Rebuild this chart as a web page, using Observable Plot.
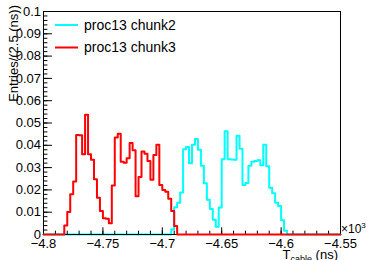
<!DOCTYPE html>
<html>
<head>
<meta charset="utf-8">
<script src="https://cdn.jsdelivr.net/npm/d3@7"></script>
<script src="https://cdn.jsdelivr.net/npm/@observablehq/plot@0.6"></script>
<style>
  html, body { margin: 0; padding: 0; background: #fff; }
  #chart { position: relative; width: 370px; height: 260px; overflow: hidden; }
</style>
</head>
<body>
<div id="chart"></div>
<script>
// ---- data (x in units of 10^3 ns) ----
const seriesNames = ["proc13 chunk2", "proc13 chunk3"];
const seriesColors = ["#00ffff", "#ff0000"];
const xTicks = [-4.8, -4.75, -4.7, -4.65, -4.6, -4.55];
const xTickLabels = ["\u22124.8", "\u22124.75", "\u22124.7", "\u22124.65", "\u22124.6", "\u22124.55"];
const yTicks = [0, 0.01, 0.02, 0.03, 0.04, 0.05, 0.06, 0.07, 0.08, 0.09, 0.1];
const yTickLabels = ["0", "0.01", "0.02", "0.03", "0.04", "0.05", "0.06", "0.07", "0.08", "0.09", "0.1"];
const xTitle = "T";
const xTitleSub = "cable";
const xTitleUnit = " (ns)";
const yTitle = "Entries/(2.5 (ns))";
const histLow = -4.8, histHigh = -4.55, binWidth = 0.0025;

// first non-empty bin lower edge, then bin contents
const chunk2Start = -4.6925;
const chunk2Values = [0.0022, 0.0122, 0.0142, 0.0188, 0.0382, 0.0392, 0.032, 0.0403, 0.0428, 0.038,
  0.0308, 0.023, 0.0156, 0.0114, 0.0066, 0.0035, 0.0121, 0.0338, 0.0463, 0.0338,
  0.0336, 0.0335, 0.0443, 0.0384, 0.0222, 0.0231, 0.0308, 0.0326, 0.033, 0.0333,
  0.031, 0.0402, 0.0306, 0.021, 0.0185, 0.0142, 0.0128, 0.0064, 0.0017];
const chunk3Start = -4.7825;
const chunk3Values = [0.004, 0.0101, 0.018, 0.0238, 0.0446, 0.0445, 0.036, 0.0537, 0.036, 0.0335,
  0.0248, 0.0165, 0.0105, 0.0073, 0.0071, 0.005, 0.022, 0.0435, 0.0452, 0.0326,
  0.0322, 0.0342, 0.041, 0.0378, 0.0172, 0.0258, 0.0372, 0.0362, 0.033, 0.0245,
  0.0357, 0.0402, 0.0222, 0.0199, 0.0192, 0.016, 0.0105, 0.0038];

// ---- build step series over the full histogram range ----
const nBins = Math.round((histHigh - histLow) / binWidth);
function buildSeries(start, values, name) {
  const offset = Math.round((start - histLow) / binWidth);
  const rows = [];
  for (let i = 0; i <= nBins; i++) {
    const k = i - offset;
    const v = (i < nBins && k >= 0 && k < values.length) ? values[k] : 0;
    rows.push({x: histLow + i * binWidth, y: v, series: name});
  }
  return rows;
}
const chunk2 = buildSeries(chunk2Start, chunk2Values, seriesNames[0]);
const chunk3 = buildSeries(chunk3Start, chunk3Values, seriesNames[1]);

const xMinor = d3.range(0, 26).map(i => histLow + i * 0.01);
const yMinor = d3.range(0, 51).map(i => i * 0.002);

// tick lengths expressed in data units (style)
const xMajLen = 0.003, xMinLen = 0.0015;
const yMajLen = 0.0075, yMinLen = 0.0037;

const plot = Plot.plot({
  width: 370,
  height: 260,
  marginLeft: 43,
  marginRight: 30,
  marginTop: 11,
  marginBottom: 26,
  style: {fontFamily: "'Liberation Sans', Arial, Helvetica, sans-serif", fontSize: "13px", color: "black", background: "white", overflow: "hidden"},
  x: {domain: [histLow, histHigh]},
  y: {domain: [0, 0.1]},
  marks: [
    Plot.lineY(chunk2, {x: "x", y: "y", curve: "step-after", stroke: seriesColors[0], strokeWidth: 2}),
    Plot.frame({stroke: "black", strokeWidth: 1}),
    Plot.ruleX(xMinor, {x: d => d, y1: 0, y2: xMinLen, stroke: "black"}),
    Plot.ruleX(xTicks, {x: d => d, y1: 0, y2: xMajLen, stroke: "black"}),
    Plot.ruleY(yMinor, {y: d => d, x1: histLow, x2: histLow + yMinLen, stroke: "black"}),
    Plot.ruleY(yTicks, {y: d => d, x1: histLow, x2: histLow + yMajLen, stroke: "black"}),
    Plot.lineY(chunk3, {x: "x", y: "y", curve: "step-after", stroke: seriesColors[1], strokeWidth: 2}),
    Plot.axisX({ticks: xTicks, tickFormat: (d, i) => xTickLabels[xTicks.indexOf(d)], tickSize: 0, tickPadding: 4, fontSize: 13, label: null}),
    Plot.axisY({ticks: yTicks, tickFormat: d => yTickLabels[yTicks.indexOf(d)], tickSize: 0, tickPadding: 2.5, fontSize: 13, label: null})
  ]
});
document.getElementById("chart").appendChild(plot);

// ---- titles and legend inside the svg ----
const svg = d3.select(plot);
svg.attr("overflow", "hidden");
const font = "'Liberation Sans', Arial, Helvetica, sans-serif";

// y title, rotated, right-aligned at top
svg.append("text")
  .attr("transform", "translate(18,5) rotate(-90)")
  .attr("text-anchor", "end")
  .attr("font-family", font).attr("font-size", 13).attr("fill", "black")
  .text(yTitle);

// x title T_cable (ns), right-aligned
const xt = svg.append("text")
  .attr("x", 338).attr("y", 258.5)
  .attr("text-anchor", "end")
  .attr("font-family", font).attr("font-size", 13).attr("fill", "black");
xt.append("tspan").text(xTitle);
xt.append("tspan").attr("font-size", 9).attr("dy", 3).text(xTitleSub);
xt.append("tspan").attr("dy", -3).text(xTitleUnit);

// x10^3 multiplier
const mt = svg.append("text")
  .attr("x", 341).attr("y", 233)
  .attr("text-anchor", "start")
  .attr("font-family", font).attr("font-size", 12).attr("fill", "black");
mt.append("tspan").text("\u00d710");
mt.append("tspan").attr("font-size", 8).attr("dy", -5).text("3");

// legend
const legendY = [25, 47.5];
seriesNames.forEach((name, i) => {
  svg.append("line")
    .attr("x1", 55).attr("x2", 78).attr("y1", legendY[i]).attr("y2", legendY[i])
    .attr("stroke", seriesColors[i]).attr("stroke-width", 2);
  svg.append("text")
    .attr("x", 84).attr("y", legendY[i] + 4.8)
    .attr("text-anchor", "start")
    .attr("font-family", font).attr("font-size", 14).attr("fill", "black")
    .text(name);
});
</script>
</body>
</html>
